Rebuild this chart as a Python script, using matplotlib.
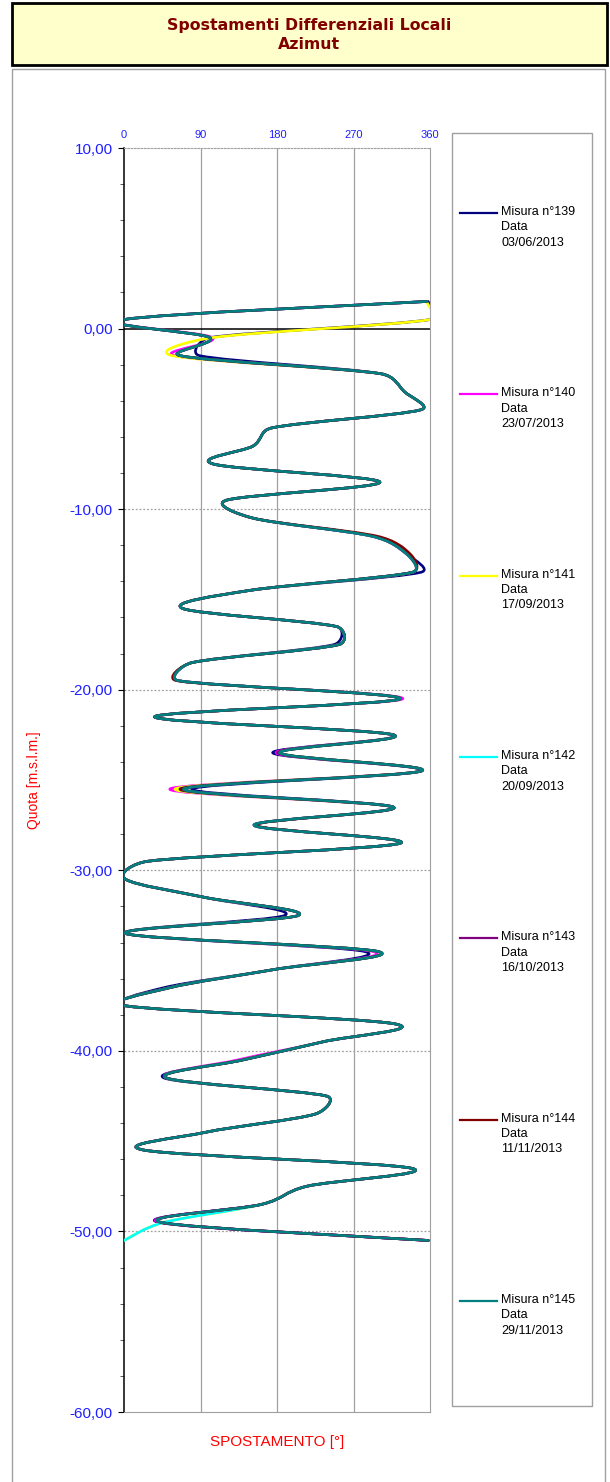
import matplotlib
matplotlib.use('Agg')
import matplotlib.pyplot as plt
import numpy as np
from matplotlib.path import Path
from matplotlib.patches import PathPatch, Rectangle
from matplotlib.lines import Line2D
from matplotlib.ticker import MultipleLocator, FuncFormatter

# quota of each reading [m s.l.m.]
quota = [1.5, 0.5, -0.5, -1.5, -2.5, -3.5, -4.5, -5.5, -6.5, -7.5,
         -8.5, -9.5, -10.5, -11.5, -12.5, -13.5, -14.5, -15.5, -16.5, -17.5,
         -18.5, -19.5, -20.5, -21.5, -22.5, -23.5, -24.5, -25.5, -26.5, -27.5,
         -28.5, -29.5, -30.5, -31.5, -32.5, -33.5, -34.5, -35.5, -36.5, -37.5,
         -38.5, -39.5, -40.5, -41.5, -42.5, -43.5, -44.5, -45.5, -46.5, -47.5,
         -48.5, -49.5, -50.5]

# azimut of the last reading (n.145), degrees
az_145 = [356, 0, 101, 66, 302, 330, 349, 174, 152, 105,
          301, 121, 152, 292, 333, 339, 148, 69, 250, 253,
          80, 64, 325, 36, 317, 183, 350, 70, 317, 153,
          325, 28, 2, 95, 205, 2, 299, 176, 54, 1,
          318, 234, 140, 50, 238, 225, 97, 24, 338, 215,
          162, 44, 358]

# the earlier readings differ from n.145 only at these quotas
diff_139 = {1.5: 358, 0.5: 360, -1.5: 89, -13.5: 349, -17.5: 247, -23.5: 175,
            -25.5: 80, -32.5: 189, -34.5: 283, -36.5: 47, -41.5: 47, -49.5: 41}
diff_140 = {-0.5: 104, -1.5: 60, -20.5: 328, -23.5: 179, -25.5: 54,
            -34.5: 293, -40.5: 134, -49.5: 42}
diff_141 = {1.5: 356, 0.5: 360, -0.5: 104, -1.5: 57, -25.5: 60,
            -34.5: 299, -49.5: 47, -50.5: 0}
diff_142 = {-25.5: 66, -49.5: 47, -50.5: 0}
diff_143 = {-23.5: 181, -25.5: 70}
diff_144 = {-11.5: 298, -12.5: 337, -19.5: 62, -25.5: 66, -27.5: 155}

misure = ['139', '140', '141', '142', '143', '144', '145']
date = ['03/06/2013', '23/07/2013', '17/09/2013', '20/09/2013',
        '16/10/2013', '11/11/2013', '29/11/2013']
colori = ['#000080', '#FF00FF', '#FFFF00', '#00FFFF', '#800080', '#800000', '#008080']


def with_changes(base, changes):
    vals = list(base)
    for q, v in changes.items():
        vals[quota.index(q)] = v
    return vals


serie = [with_changes(az_145, d) for d in
         [diff_139, diff_140, diff_141, diff_142, diff_143, diff_144]] + [az_145]


def smooth_path(ax, x, y):
    # bezier through the points (excel-like smoothing), built in pixel space
    pts = ax.transData.transform(np.column_stack([x, y]).astype(float))
    ext = np.vstack([pts[0], pts, pts[-1]])
    verts = [pts[0]]
    codes = [Path.MOVETO]
    for i in range(len(pts) - 1):
        p0, p1, p2, p3 = ext[i], ext[i + 1], ext[i + 2], ext[i + 3]
        seg = np.hypot(*(p2 - p1))
        t1 = (p2 - p0) / 6
        t2 = (p3 - p1) / 6
        for t in (t1, t2):
            n = np.hypot(*t)
            if n > seg / 2 and n > 0:
                t *= (seg / 2) / n
        verts += [p1 + t1, p2 - t2, p2]
        codes += [Path.CURVE4] * 3
    verts = ax.transData.inverted().transform(np.array(verts))
    return Path(verts, codes)


W, H = 610, 1482
fig = plt.figure(figsize=(W / 100, H / 100), dpi=100)
fig.patch.set_facecolor('white')

# title box
fig.add_artist(Rectangle((12 / W, 1 - 65 / H), 595 / W, 62 / H, transform=fig.transFigure,
                         facecolor='#FFFFCC', edgecolor='black', lw=2))
fig.text(309 / W, 1 - 35 / H, 'Spostamenti Differenziali Locali\nAzimut', ha='center', va='center',
         color='#800000', fontsize=11.3, fontweight='bold', family='DejaVu Sans', linespacing=1.4)

# chart area frame
fig.add_artist(Rectangle((12 / W, -0.01), 593 / W, 1 - 69 / H + 0.01, transform=fig.transFigure,
                         facecolor='none', edgecolor='#A0A0A0', lw=1))

ax = fig.add_axes([124 / W, 1 - 1412 / H, 306 / W, 1264 / H])
ax.set_xlim(0, 360)
ax.set_ylim(-60, 10)

for vals, c in zip(serie, colori):
    ax.add_patch(PathPatch(smooth_path(ax, vals, quota), fill=False, edgecolor=c, lw=1.9,
                           joinstyle='round', capstyle='round', zorder=3))

ax.axhline(0, color='black', lw=1.1, zorder=2)

ax.xaxis.tick_top()
ax.set_xticks([0, 90, 180, 270, 360])
ax.tick_params(axis='x', length=0, pad=6, labelsize=8, labelcolor='#2020FF')
ax.yaxis.set_major_locator(MultipleLocator(10))
ax.yaxis.set_minor_locator(MultipleLocator(2))
ax.yaxis.set_major_formatter(FuncFormatter(lambda v, p: f'{v:.2f}'.replace('.', ',')))
ax.tick_params(axis='y', which='major', length=4, width=0.8, labelsize=11, labelcolor='#2020FF', pad=4)
ax.tick_params(axis='y', which='minor', length=3, width=0.6, color='#404040')
for lab in ax.get_xticklabels() + ax.get_yticklabels():
    lab.set_family('Liberation Sans')

for v in [90, 180, 270]:
    ax.axvline(v, color='#A0A0A0', lw=0.9, zorder=1)
for v in [-10, -20, -30, -40, -50]:
    ax.axhline(v, color='#A0A0A0', lw=0.9, ls=(0, (1.5, 1.5)), zorder=1)

ax.spines['left'].set_color('black')
ax.spines['left'].set_linewidth(1.1)
ax.spines['right'].set_color('#A0A0A0')
ax.spines['bottom'].set_color('#A0A0A0')
ax.spines['top'].set_color('#A0A0A0')
ax.spines['top'].set_linestyle((0, (1.5, 1.5)))

ax.set_ylabel('Quota [m.s.l.m.]', color='red', fontsize=10, family='Liberation Sans')
ax.yaxis.set_label_coords((41 - 124) / 306, 0.5)
fig.text(277 / W, 1 - 1442 / H, 'SPOSTAMENTO [°]', ha='center', va='center', color='red',
         fontsize=11, family='Liberation Sans')

# legend
fig.add_artist(Rectangle((452 / W, 1 - 1406 / H), 140 / W, 1273 / H, transform=fig.transFigure,
                         facecolor='white', edgecolor='#A0A0A0', lw=1))
for k, (m, d, c) in enumerate(zip(misure, date, colori)):
    y = 213 + k * 181.3
    fig.add_artist(Line2D([460 / W, 497 / W], [1 - y / H, 1 - y / H], transform=fig.transFigure,
                          color=c, lw=1.6))
    fig.text(501 / W, 1 - (y - 7) / H, f'Misura n°{m}\nData\n{d}', ha='left', va='top',
             fontsize=9, family='Liberation Sans', linespacing=1.38)

fig.savefig('out.png', dpi=100)
